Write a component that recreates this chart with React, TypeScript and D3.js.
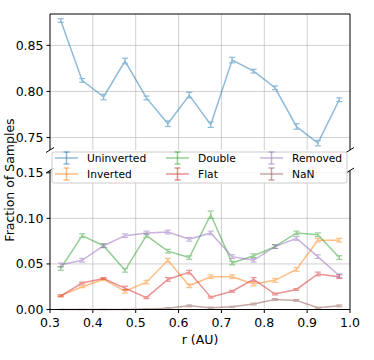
import React from 'react'
import * as d3 from 'd3'

const rValues = [0.325, 0.375, 0.425, 0.475, 0.525, 0.575, 0.625, 0.675, 0.725, 0.775, 0.825, 0.875, 0.925, 0.975]

const uninverted = [0.877, 0.812, 0.794, 0.833, 0.793, 0.765, 0.796, 0.764, 0.834, 0.822, 0.804, 0.762, 0.744, 0.791]
const uninvertedErr = [0.002, 0.002, 0.003, 0.003, 0.002, 0.003, 0.003, 0.003, 0.003, 0.002, 0.002, 0.003, 0.003, 0.002]
const inverted = [0.015, 0.025, 0.033, 0.020, 0.030, 0.054, 0.026, 0.036, 0.036, 0.028, 0.032, 0.044, 0.076, 0.076]
const invertedErr = [0.001, 0.001, 0.001, 0.002, 0.002, 0.002, 0.002, 0.002, 0.002, 0.002, 0.002, 0.002, 0.002, 0.002]
const double = [0.045, 0.081, 0.070, 0.043, 0.081, 0.064, 0.057, 0.104, 0.051, 0.059, 0.069, 0.084, 0.082, 0.057]
const doubleErr = [0.002, 0.002, 0.002, 0.002, 0.002, 0.002, 0.002, 0.004, 0.002, 0.002, 0.002, 0.002, 0.002, 0.002]
const flat = [0.015, 0.029, 0.034, 0.0235, 0.013, 0.033, 0.041, 0.0135, 0.020, 0.033, 0.017, 0.022, 0.039, 0.036]
const flatErr = [0.001, 0.001, 0.001, 0.002, 0.001, 0.002, 0.002, 0.001, 0.001, 0.002, 0.001, 0.001, 0.002, 0.002]
const removed = [0.049, 0.054, 0.070, 0.081, 0.084, 0.085, 0.077, 0.084, 0.058, 0.054, 0.069, 0.078, 0.058, 0.037]
const removedErr = [0.002, 0.002, 0.002, 0.002, 0.002, 0.002, 0.002, 0.002, 0.002, 0.002, 0.002, 0.002, 0.002, 0.002]
const nanValues = [0, 0, 0, 0, 0.0005, 0.0015, 0.004, 0.002, 0.003, 0.006, 0.011, 0.010, 0.002, 0.004]
const nanErr = [0, 0, 0, 0, 0.0005, 0.0005, 0.001, 0.0005, 0.0005, 0.001, 0.001, 0.001, 0.0005, 0.001]

const xTicks = [0.3, 0.4, 0.5, 0.6, 0.7, 0.8, 0.9, 1.0]
const topTicks = [0.75, 0.8, 0.85]
const bottomTicks = [0, 0.05, 0.1, 0.15]

const seriesList = [
  { name: 'Uninverted', values: uninverted, err: uninvertedErr, color: '#1f77b4', top: true },
  { name: 'Inverted', values: inverted, err: invertedErr, color: '#ff7f0e', top: false },
  { name: 'Double', values: double, err: doubleErr, color: '#2ca02c', top: false },
  { name: 'Flat', values: flat, err: flatErr, color: '#d62728', top: false },
  { name: 'Removed', values: removed, err: removedErr, color: '#9467bd', top: false },
  { name: 'NaN', values: nanValues, err: nanErr, color: '#8c564b', top: false },
]

const FONT = 'DejaVu Sans, sans-serif'

export default function App() {
  const width = 374
  const height = 360
  const left = 50
  const right = 350

  const x = d3.scaleLinear().domain([0.3, 1.0]).range([left, right])
  const yTop = d3.scaleLinear().domain([0.7365, 0.884]).range([150, 14])
  const yBot = d3.scaleLinear().domain([0, 0.1525]).range([309.5, 170.5])

  const renderSeries = (s, y) => {
    const line = d3.line<number>()
      .x((_, i) => x(rValues[i]))
      .y(v => y(v))
    return (
      <g key={s.name} opacity={0.5}>
        <path d={line(s.values) || ''} fill="none" stroke={s.color} strokeWidth={1.5} />
        {s.values.map((v, i) => {
          const cx = x(rValues[i])
          const y0 = y(v - s.err[i])
          const y1 = y(v + s.err[i])
          return (
            <g key={i} stroke={s.color} strokeWidth={1.2}>
              <line x1={cx} x2={cx} y1={y0} y2={y1} />
              <line x1={cx - 3} x2={cx + 3} y1={y0} y2={y0} />
              <line x1={cx - 3} x2={cx + 3} y1={y1} y2={y1} />
            </g>
          )
        })}
      </g>
    )
  }

  const legendCols = [
    [seriesList[0], seriesList[1]],
    [seriesList[2], seriesList[3]],
    [seriesList[4], seriesList[5]],
  ]
  const colX = [55, 166, 260]
  const rowY = [158, 174]

  const brk = (cx, cy) => (
    <line x1={cx - 4} y1={cy + 2.5} x2={cx + 4} y2={cy - 2.5} stroke="#000" strokeWidth={1} />
  )

  return (
    <div style={{ width, height }}>
      <style>{'body{margin:0}'}</style>
      <svg width={width} height={height} style={{ display: 'block', fontFamily: FONT }}>
        <rect width={width} height={height} fill="#fff" />

        {/* grids */}
        <g stroke="#b0b0b0" strokeOpacity={0.6} strokeWidth={1}>
          {xTicks.slice(1, -1).map(t => (
            <g key={t}>
              <line x1={x(t)} x2={x(t)} y1={14} y2={150} />
              <line x1={x(t)} x2={x(t)} y1={170.5} y2={309.5} />
            </g>
          ))}
          {topTicks.map(t => <line key={t} x1={left} x2={right} y1={yTop(t)} y2={yTop(t)} />)}
          {bottomTicks.map(t => <line key={t} x1={left} x2={right} y1={yBot(t)} y2={yBot(t)} />)}
        </g>

        {/* series */}
        {seriesList.filter(s => s.top).map(s => renderSeries(s, yTop))}
        {seriesList.filter(s => !s.top).map(s => renderSeries(s, yBot))}

        {/* spines */}
        <g stroke="#000" strokeWidth={1} fill="none">
          <path d={`M${left},150V14H${right}V150`} />
          <path d={`M${left},170.5V309.5H${right}V170.5`} />
        </g>
        {brk(left, 150)}
        {brk(right, 150)}
        {brk(left, 170.5)}
        {brk(right, 170.5)}

        {/* y ticks */}
        <g fontSize={12.5} fill="#000" textAnchor="end">
          {topTicks.map(t => (
            <g key={t}>
              <line x1={left - 3.5} x2={left} y1={yTop(t)} y2={yTop(t)} stroke="#000" />
              <text x={left - 6.5} y={yTop(t)} dy="0.36em">{d3.format('.2f')(t)}</text>
            </g>
          ))}
          {bottomTicks.map(t => (
            <g key={t}>
              <line x1={left - 3.5} x2={left} y1={yBot(t)} y2={yBot(t)} stroke="#000" />
              <text x={left - 6.5} y={yBot(t)} dy="0.36em">{d3.format('.2f')(t)}</text>
            </g>
          ))}
        </g>

        {/* x ticks */}
        <g fontSize={12.5} fill="#000" textAnchor="middle">
          {xTicks.map(t => (
            <g key={t}>
              <line x1={x(t)} x2={x(t)} y1={309.5} y2={313} stroke="#000" />
              <text x={x(t)} y={326.5}>{d3.format('.1f')(t)}</text>
            </g>
          ))}
        </g>

        <text x={200} y={343.5} fontSize={12.5} textAnchor="middle">r (AU)</text>
        <text transform="translate(14,180) rotate(-90)" fontSize={12.5} textAnchor="middle">Fraction of Samples</text>

        {/* legend */}
        <rect x={52} y={152} width={295} height={31} rx={2} fill="#fff" fillOpacity={0.8} stroke="#cccccc" strokeWidth={1} />
        {legendCols.map((col, ci) => col.map((s, ri) => {
          const hx = colX[ci]
          const hy = rowY[ri]
          return (
            <g key={s.name}>
              <g stroke={s.color} strokeOpacity={0.5} strokeWidth={1.5}>
                <line x1={hx} x2={hx + 23} y1={hy} y2={hy} />
                <line x1={hx + 11.5} x2={hx + 11.5} y1={hy - 6} y2={hy + 6} />
                <line x1={hx + 8.5} x2={hx + 14.5} y1={hy - 6} y2={hy - 6} />
                <line x1={hx + 8.5} x2={hx + 14.5} y1={hy + 6} y2={hy + 6} />
              </g>
              <text x={hx + 32} y={hy} dy="0.36em" fontSize={10.7} fill="#000">{s.name}</text>
            </g>
          )
        }))}
      </svg>
    </div>
  )
}
